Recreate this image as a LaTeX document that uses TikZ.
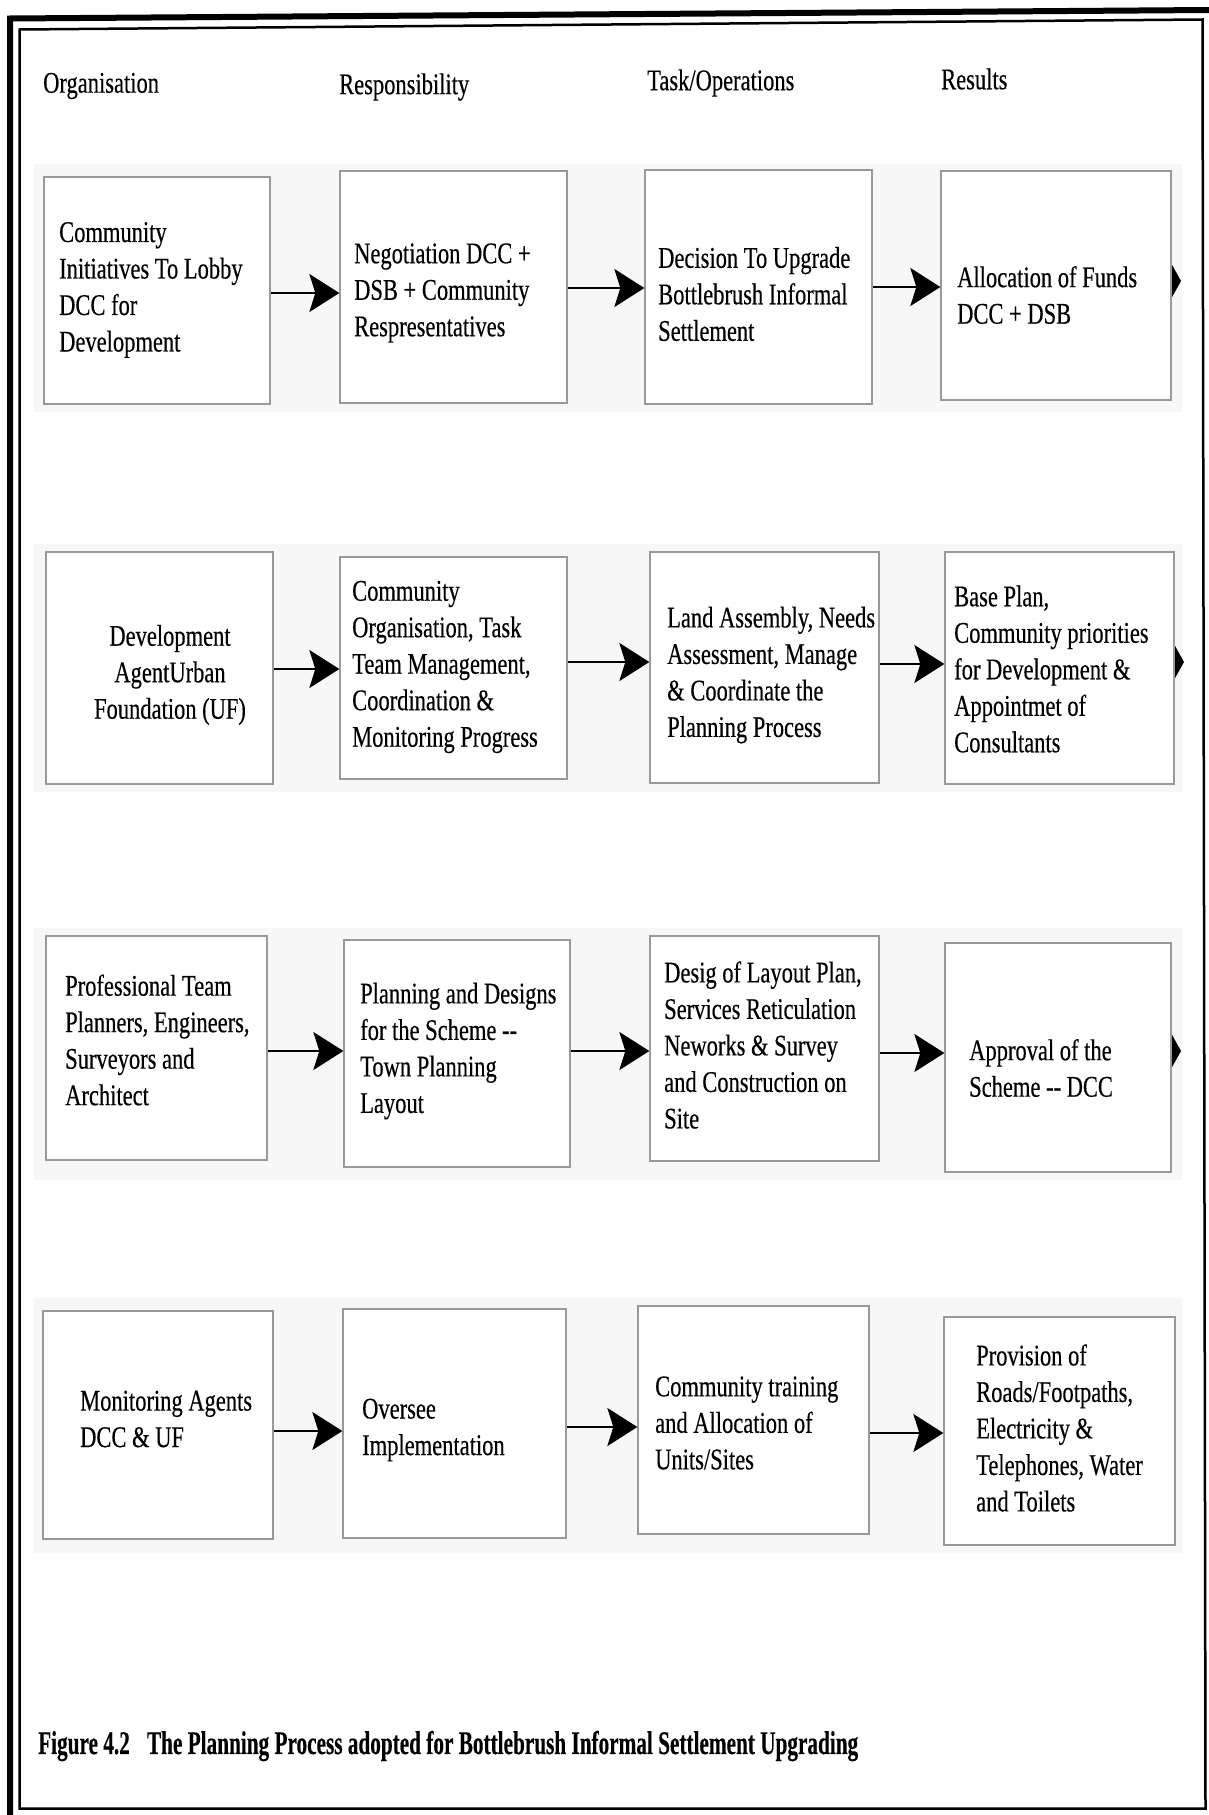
\documentclass[tikz,border=0pt]{standalone}
\usepackage{fontspec}
\setmainfont{Liberation Serif}[FakeStretch=0.75,FakeBold=0.35]
\usepackage{graphicx}
\usetikzlibrary{arrows.meta}
\begin{document}
\begin{tikzpicture}[x=1pt,y=-1pt,
  procbox/.style={draw=black!40, line width=1.3pt, fill=white, inner sep=0pt, rectangle},
  txt/.style={font=\fontsize{30}{36.5}\selectfont, align=left, inner sep=0pt, anchor=west},
  hdr/.style={font=\fontsize{30}{36}\selectfont, inner sep=0pt, anchor=west},
  arr/.style={line width=2.2pt, -{Stealth[length=30pt,width=38pt,inset=6pt]}},
  endtip/.style={line width=2pt, -{Stealth[length=9pt,width=32pt,inset=0pt]}},
  band/.style={fill=black!3, draw=none}]
\useasboundingbox (0,0) rectangle (1209,1815);
\fill[white] (0,0) rectangle (1209,1815);
% row bands
\fill[band] (34,164) rectangle (1182,412);
\fill[band] (34,544) rectangle (1182,792);
\fill[band] (34,928) rectangle (1182,1180);
\fill[band] (34,1298) rectangle (1182,1553);
% frame
\draw[line width=6pt] (10,1815) -- (10,18.5) -- (1209,10);
\draw[line width=2.5pt] (19.5,29.5) -- (1202.5,19.5) -- (1205.5,1808.5) -- (19.5,1808.5) -- cycle;
% headers
\node[hdr] (h1) at (43,86) {Organisation};
\node[hdr] (h2) at (339,87) {Responsibility};
\node[hdr] (h3) at (647,83) {Task/Operations};
\node[hdr] (h4) at (941,79) {Results};
% row 1
\node[procbox, minimum width=226pt, minimum height=227pt] (a1) at (157,290.5) {};
\node[procbox, minimum width=227pt, minimum height=232pt] (b1) at (453.5,287) {};
\node[procbox, minimum width=227pt, minimum height=234pt] (c1) at (758.5,287) {};
\node[procbox, minimum width=230pt, minimum height=229pt] (d1) at (1056,285.5) {};
\node[txt] (a1t) at (59,290) {Community\\Initiatives To Lobby\\DCC for\\Development};
\node[txt] (b1t) at (354,293) {Negotiation DCC +\\DSB + Community\\Respresentatives};
\node[txt] (c1t) at (658,294) {Decision To Upgrade\\Bottlebrush Informal\\Settlement};
\node[txt] (d1t) at (957,295) {Allocation of Funds\\DCC + DSB};
\draw[arr] (a1.east |- 0,293) -- (b1.west |- 0,293);
\draw[arr] (b1.east |- 0,288) -- (c1.west |- 0,288);
\draw[arr] (c1.east |- 0,287) -- (d1.west |- 0,287);
\coordinate (e1) at (1181,281);
\draw[endtip] (d1.east |- e1) -- (e1);
% row 2
\node[procbox, minimum width=227pt, minimum height=232pt] (a2) at (159.5,668) {};
\node[procbox, minimum width=227pt, minimum height=222pt] (b2) at (453.5,668) {};
\node[procbox, minimum width=229pt, minimum height=231pt] (c2) at (764.5,667.5) {};
\node[procbox, minimum width=229pt, minimum height=232pt] (d2) at (1059.5,668) {};
\node[txt, align=center, anchor=center] (a2t) at (170,675) {Development\\AgentUrban\\Foundation (UF)};
\node[txt] (b2t) at (352,667) {Community\\Organisation, Task\\Team Management,\\Coordination \&\\Monitoring Progress};
\node[txt] (c2t) at (667,675) {Land Assembly, Needs\\Assessment, Manage\\\& Coordinate the\\Planning Process};
\node[txt] (d2t) at (954,669) {Base Plan,\\Community priorities\\for Development \&\\Appointmet of\\Consultants};
\draw[arr] (a2.east |- 0,669) -- (b2.west |- 0,669);
\draw[arr] (b2.east |- 0,662) -- (c2.west |- 0,662);
\draw[arr] (c2.east |- 0,664) -- (d2.west |- 0,664);
\coordinate (e2) at (1184,662);
\draw[endtip] (d2.east |- e2) -- (e2);
% row 3
\node[procbox, minimum width=221pt, minimum height=224pt] (a3) at (156.5,1048) {};
\node[procbox, minimum width=226pt, minimum height=227pt] (b3) at (457,1053.5) {};
\node[procbox, minimum width=229pt, minimum height=225pt] (c3) at (764.5,1048.5) {};
\node[procbox, minimum width=226pt, minimum height=229pt] (d3) at (1058,1057.5) {};
\node[txt] (a3t) at (65,1040) {Professional Team\\Planners, Engineers,\\Surveyors and\\Architect};
\node[txt] (b3t) at (360,1051) {Planning and Designs\\for the Scheme -{}-\\Town Planning\\Layout};
\node[txt] (c3t) at (664,1045) {Desig of Layout Plan,\\Services Reticulation\\Neworks \& Survey\\and Construction on\\Site};
\node[txt] (d3t) at (969,1068) {Approval of the\\Scheme -{}- DCC};
\draw[arr] (a3.east |- 0,1051) -- (b3.west |- 0,1051);
\draw[arr] (b3.east |- 0,1051) -- (c3.west |- 0,1051);
\draw[arr] (c3.east |- 0,1053) -- (d3.west |- 0,1053);
\coordinate (e3) at (1181,1051);
\draw[endtip] (d3.east |- e3) -- (e3);
% row 4
\node[procbox, minimum width=230pt, minimum height=228pt] (a4) at (158,1425) {};
\node[procbox, minimum width=223pt, minimum height=229pt] (b4) at (454.5,1423.5) {};
\node[procbox, minimum width=231pt, minimum height=228pt] (c4) at (753.5,1420) {};
\node[procbox, minimum width=231pt, minimum height=228pt] (d4) at (1059.5,1431) {};
\node[txt] (a4t) at (80,1419) {Monitoring Agents\\DCC \& UF};
\node[txt] (b4t) at (362,1430) {Oversee\\Implementation};
\node[txt] (c4t) at (655,1423) {Community training\\and Allocation of\\Units/Sites};
\node[txt] (d4t) at (976,1428) {Provision of\\Roads/Footpaths,\\Electricity \&\\Telephones, Water\\and Toilets};
\draw[arr] (a4.east |- 0,1431) -- (b4.west |- 0,1431);
\draw[arr] (b4.east |- 0,1427) -- (c4.west |- 0,1427);
\draw[arr] (c4.east |- 0,1433) -- (d4.west |- 0,1433);
% caption
\node[anchor=west, inner sep=0pt] (cap) at (38,1746) {\resizebox{820pt}{\height}{\fontsize{33}{38}\selectfont\bfseries Figure 4.2\hspace{20pt}The Planning Process adopted for Bottlebrush Informal Settlement Upgrading}};
\end{tikzpicture}
\end{document}
